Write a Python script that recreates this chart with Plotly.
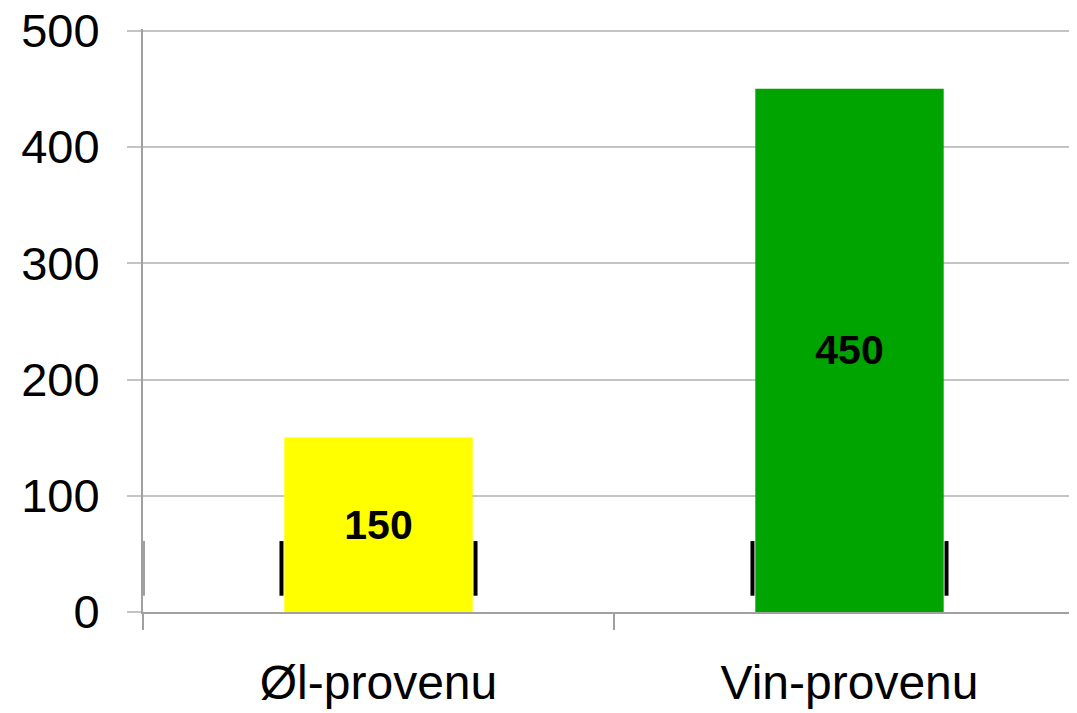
import plotly.graph_objects as go

categories = ["Øl-provenu", "Vin-provenu"]
values = [150, 450]
colors = ["#FFFF00", "#00A400"]
y_ticks = [0, 100, 200, 300, 400, 500]

bar_width = 0.4
mark_low, mark_high = 14, 61

fig = go.Figure()
fig.add_trace(go.Bar(
    x=categories, y=values, width=bar_width,
    marker=dict(color=colors, line=dict(width=0)),
    text=[str(v) for v in values], textposition="inside",
    insidetextanchor="middle", textangle=0,
    textfont=dict(family="Liberation Sans", size=41, color="black", weight="bold"),
    hoverinfo="skip",
))

shapes = []
for i in range(len(categories)):
    for side in (-1, 1):
        shapes.append(dict(
            type="line", xref="x", yref="y",
            x0=i + side * (bar_width / 2 + 0.006), x1=i + side * (bar_width / 2 + 0.006),
            y0=mark_low, y1=mark_high, line=dict(color="black", width=4),
        ))
shapes.append(dict(type="line", xref="x", yref="y", x0=-0.5, x1=-0.5,
                   y0=mark_low, y1=mark_high, line=dict(color="#a0a0a0", width=4)))

fig.update_layout(
    width=1077, height=713,
    margin=dict(l=135, r=0, t=21, b=109),
    plot_bgcolor="white", paper_bgcolor="white",
    showlegend=False, shapes=shapes,
    font=dict(family="Liberation Sans", color="black"),
    xaxis=dict(
        range=[-0.5, 1.5], showgrid=False, automargin=False,
        showline=True, linecolor="#a0a0a0", linewidth=2,
        ticks="outside", tickson="boundaries", ticklen=16, tickwidth=2, tickcolor="#a0a0a0",
        tickfont=dict(size=48, family="Liberation Sans", color="black"),
        ticklabelstandoff=27,
    ),
    yaxis=dict(
        range=[0, 501.5], tickvals=y_ticks, ticktext=[str(t) for t in y_ticks],
        showgrid=True, gridcolor="#c4c4c4", gridwidth=1.5, automargin=False,
        showline=True, linecolor="#a0a0a0", linewidth=2,
        ticks="outside", ticklen=14, tickwidth=2, tickcolor="#c4c4c4",
        tickfont=dict(size=47, family="Liberation Sans", color="black"),
        ticklabelstandoff=18, zeroline=False, ticklabeloverflow="allow",
    ),
)

fig.write_html("out.html")
